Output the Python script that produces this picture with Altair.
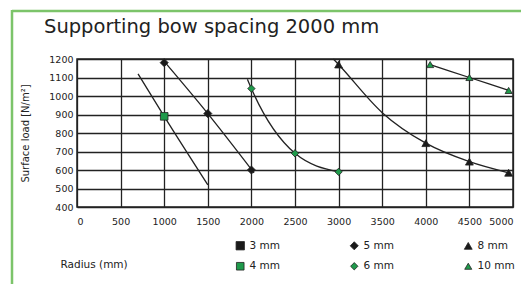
import altair as alt
import pandas as pd

# ---- data ----
legend_order = ["3 mm", "5 mm", "8 mm", "4 mm", "6 mm", "10 mm"]
legend_shapes = ["square", "diamond", "triangle-up", "square", "diamond", "triangle-up"]
legend_colors = ["#1a1a1a", "#1a1a1a", "#1a1a1a", "#1f9a4b", "#1f9a4b", "#1f9a4b"]
marker_sizes = [70, 50, 100, 150, 85, 125]

# curves (radius mm, surface load N/m2)
curve_4_r = [700, 1000, 1500]
curve_4_v = [1120, 890, 520]
curve_5_r = [995, 1500, 2030]
curve_5_v = [1190, 905, 585]
curve_6_r = [1955, 2000, 2500, 3000]
curve_6_v = [1090, 1040, 690, 590]
curve_8_r = [2940, 3000, 3500, 4000, 4500, 4950]
curve_8_v = [1200, 1170, 910, 745, 645, 585]
curve_10_r = [4050, 4500, 4950]
curve_10_v = [1170, 1100, 1030]

# markers
mark_4_r = [1000]
mark_4_v = [890]
mark_5_r = [1000, 1500, 2000]
mark_5_v = [1180, 905, 600]
mark_6_r = [2000, 2500, 3000]
mark_6_v = [1040, 690, 590]
mark_8_r = [3000, 4000, 4500, 4950]
mark_8_v = [1170, 745, 645, 585]
mark_10_r = [4050, 4500, 4950]
mark_10_v = [1170, 1100, 1030]

x_ticks = list(range(0, 5001, 500))
y_ticks = list(range(400, 1201, 100))

title_text = "Supporting bow spacing 2000 mm"

# ---- tables ----
curves = []
for name, rs, vs in [("4 mm", curve_4_r, curve_4_v), ("5 mm", curve_5_r, curve_5_v),
                     ("6 mm", curve_6_r, curve_6_v), ("8 mm", curve_8_r, curve_8_v),
                     ("10 mm", curve_10_r, curve_10_v)]:
    for r, v in zip(rs, vs):
        curves.append({"series": name, "radius": r, "load": v})
curves = pd.DataFrame(curves)

marks = []
for name, rs, vs in [("4 mm", mark_4_r, mark_4_v), ("5 mm", mark_5_r, mark_5_v),
                     ("6 mm", mark_6_r, mark_6_v), ("8 mm", mark_8_r, mark_8_v),
                     ("10 mm", mark_10_r, mark_10_v)]:
    for r, v in zip(rs, vs):
        marks.append({"series": name, "sz": name, "radius": r, "load": v})
marks = pd.DataFrame(marks)

FONT = "DejaVu Sans"

x_axis = alt.Axis(values=x_ticks, format="d", title="Radius (mm)", grid=True, ticks=False,
                  domain=False, labelPadding=9, labelFontSize=9.5, labelOverlap=False,
                  titleFontSize=10.5, titleFontWeight="normal",
                  titleAnchor="start", titleAlign="left", titleX=-17, titleY=57,
                  titleBaseline="middle")
y_axis = alt.Axis(values=y_ticks, format="d", title="Surface load [N/m²]", grid=True, ticks=False,
                  domain=False, labelPadding=4, labelFontSize=9.5, labelOverlap=False,
                  titleFontSize=10, titleFontWeight="normal", titlePadding=18)
x_scale = alt.Scale(domain=[0, 5000], nice=False)
y_scale = alt.Scale(domain=[400, 1200], nice=False)

legend = alt.Legend(title=None, orient="none", legendX=158, legendY=181,
                    direction="horizontal", columns=3, columnPadding=68,
                    rowPadding=8, symbolSize=80, labelFontSize=10.5,
                    labelOffset=4, symbolStrokeWidth=0.8,
                    symbolStrokeColor="#222222", labelColor="#222222",
                    labelFont=FONT)

lines = alt.Chart(curves).mark_line(interpolate="monotone", color="#222222", strokeWidth=1.3).encode(
    x=alt.X("radius:Q", scale=x_scale, axis=x_axis),
    y=alt.Y("load:Q", scale=y_scale, axis=y_axis),
    detail="series:N",
)

points = alt.Chart(marks).mark_point(filled=True, stroke="#222222", strokeWidth=0.8, opacity=1).encode(
    x=alt.X("radius:Q", scale=x_scale, axis=x_axis),
    y=alt.Y("load:Q", scale=y_scale, axis=y_axis),
    shape=alt.Shape("series:N", scale=alt.Scale(domain=legend_order, range=legend_shapes), legend=legend),
    color=alt.Color("series:N", scale=alt.Scale(domain=legend_order, range=legend_colors), legend=legend),
    size=alt.Size("sz:N", scale=alt.Scale(domain=legend_order, range=marker_sizes), legend=None),
)

border_top = alt.Chart(pd.DataFrame({"k": [0]})).mark_rule(color="#7cc46a", strokeWidth=2.5).encode(
    x=alt.value(-65), x2=alt.value(460), y=alt.value(-48)
)
border_left = alt.Chart(pd.DataFrame({"k": [0]})).mark_rule(color="#7cc46a", strokeWidth=2.5).encode(
    x=alt.value(-65), y=alt.value(-49), y2=alt.value(230)
)
title = alt.Chart(pd.DataFrame({"t": [title_text]})).mark_text(
    align="left", baseline="alphabetic", fontSize=19.5, color="#222222", font=FONT
).encode(text="t:N", x=alt.value(-33), y=alt.value(-26))

chart = alt.layer(border_top, border_left, lines, points, title).properties(
    width=436, height=148,
    background="white",
    autosize=alt.AutoSizeParams(type="none"),
    padding={"left": 69, "top": 51, "right": 8, "bottom": 77},
).configure_view(stroke="#222222", strokeWidth=1.5).configure_axis(
    gridColor="#222222", gridWidth=1.3, gridOpacity=1, labelColor="#222222",
    titleColor="#222222", labelFont=FONT, titleFont=FONT
)

chart.save("out.html", embed_options={"renderer": "svg", "actions": False})
